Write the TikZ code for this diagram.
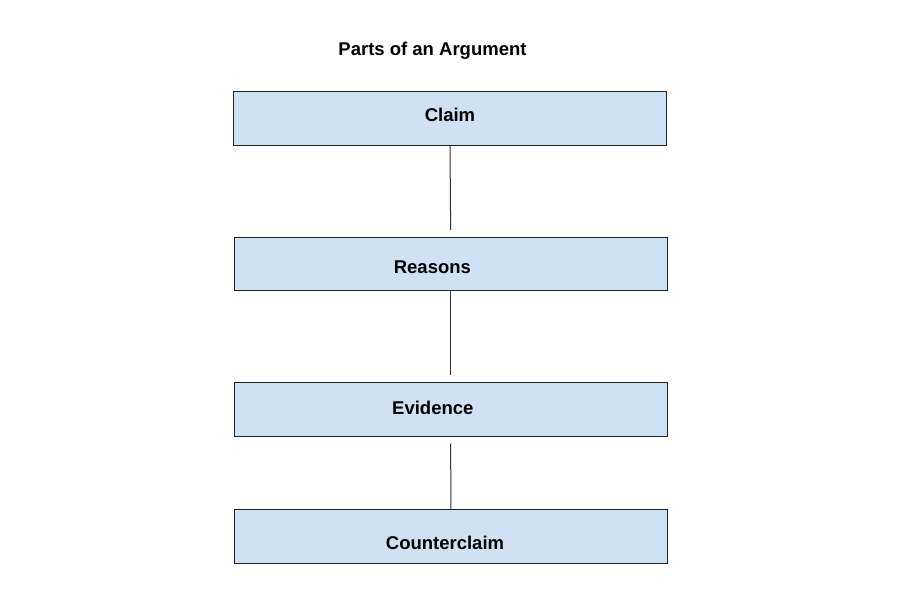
\documentclass[tikz,border=0pt]{standalone}
\usepackage{fontspec}
\setmainfont{Liberation Sans}
\usepackage{xcolor}
\usetikzlibrary{positioning}
\definecolor{boxfill}{HTML}{cfe2f3}
\definecolor{boxline}{HTML}{222222}
\definecolor{linkcol}{HTML}{333333}

\begin{document}
\begin{tikzpicture}[
  x=1pt, y=-1pt,
  font=\fontsize{18.5}{22}\selectfont\bfseries,
  box/.style={draw=boxline, fill=boxfill, line width=1pt, inner sep=0pt,
    minimum width=433pt, minimum height=53.6pt},
  lbl/.style={anchor=base, inner sep=0pt},
  link/.style={draw=linkcol, line width=1pt}]

\useasboundingbox[fill=white] (0,0) rectangle (900,604);

\node[lbl] (title) at (432.5,56) {Parts of an Argument};

\node[box] (claim) at (450,118.5) {};
\node[box] (reasons) at (450.7,264.2) {};
\node[box] (evid) at (450.7,409.2) {};
\node[box] (counter) at (450.8,536.3) {};

\node[lbl] (tclaim) at (450,121.7) {Claim};
\node[lbl] (treasons) at (432.4,274) {Reasons};
\node[lbl] (tevid) at (432.8,414.3) {Evidence};
\node[lbl] (tcounter) at (445,549) {Counterclaim};

\draw[link, shorten >=7pt] (claim.south) -- (reasons.north);
\draw[link, shorten >=6.5pt] (reasons.south) -- (evid.north);
\draw[link, shorten <=7pt] (evid.south) -- (counter.north);
\end{tikzpicture}
\end{document}
